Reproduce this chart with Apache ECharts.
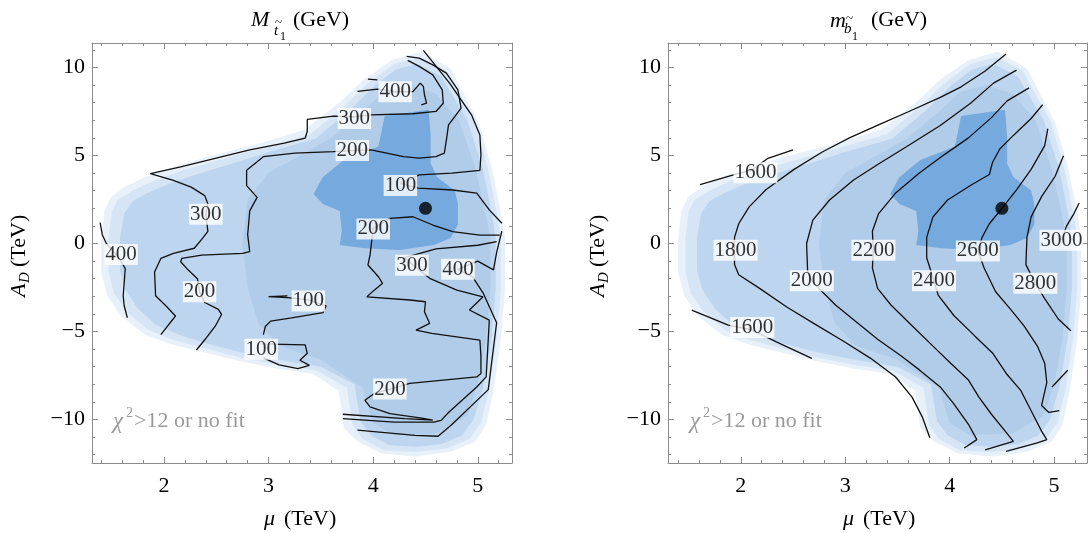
<!DOCTYPE html>
<html>
<head>
<meta charset="utf-8">
<script src="https://cdn.jsdelivr.net/npm/echarts@6/dist/echarts.min.js"></script>
<style>
  html, body { margin: 0; padding: 0; background: #fff; }
  #chart { width: 1089px; height: 533px; }
</style>
</head>
<body>
<div id="chart"></div>
<script>
// ---- chi^2 shading (same region in both panels), mu [TeV] / A_D [TeV]
var chiOuter = [[4.46,10.9],[4.74,9.94],[5.01,6.86],[5.14,4.16],[5.23,1.46],[5.26,0.31],[5.26,-2.58],[5.22,-5.47],[5.15,-8.36],[5.08,-10.29],[4.98,-11.25],[4.74,-11.83],[4.41,-12.1],[4.08,-11.93],[3.85,-11.25],[3.72,-10.48],[3.67,-8.36],[3.42,-7.40],[3.09,-7.11],[2.75,-6.72],[2.42,-6.24],[2.09,-5.76],[1.82,-5.18],[1.59,-4.12],[1.46,-2.97],[1.40,-1.62],[1.40,0.31],[1.43,1.85],[1.49,2.62],[1.62,3.20],[1.82,3.78],[2.09,4.35],[2.42,4.93],[2.92,5.70],[3.35,6.47],[3.68,8.02],[3.92,9.36],[4.18,10.42]];
var chiBand = [[4.45,10.6],[4.70,9.8],[4.97,6.9],[5.10,4.2],[5.19,1.5],[5.22,0.3],[5.22,-2.6],[5.18,-5.4],[5.11,-8.3],[5.03,-10.2],[4.92,-11.1],[4.70,-11.65],[4.40,-11.85],[4.10,-11.75],[3.90,-11.1],[3.80,-10.3],[3.75,-8.2],[3.45,-7.2],[3.1,-6.9],[2.75,-6.5],[2.42,-6.0],[2.1,-5.5],[1.85,-4.9],[1.65,-3.9],[1.52,-2.8],[1.47,-1.6],[1.47,0.3],[1.50,1.8],[1.56,2.5],[1.70,3.0],[1.90,3.55],[2.15,4.1],[2.5,4.7],[2.95,5.45],[3.4,6.2],[3.72,7.8],[3.97,9.2],[4.2,10.2]];
var chiBody = [[4.42,10.2],[4.65,9.5],[4.9,7.0],[5.05,4.2],[5.14,1.5],[5.17,0.3],[5.17,-2.6],[5.13,-5.4],[5.05,-8.2],[4.96,-10.0],[4.85,-10.9],[4.65,-11.4],[4.40,-11.55],[4.15,-11.45],[3.98,-10.9],[3.88,-10.1],[3.82,-8.0],[3.5,-7.0],[3.1,-6.6],[2.75,-6.2],[2.42,-5.7],[2.15,-5.2],[1.92,-4.6],[1.75,-3.7],[1.63,-2.6],[1.58,-1.5],[1.58,0.3],[1.62,1.7],[1.70,2.4],[1.85,2.9],[2.05,3.4],[2.3,3.9],[2.6,4.45],[3.0,5.2],[3.45,5.95],[3.78,7.6],[4.02,9.0],[4.22,9.9]];
var chiInner = [[4.35,9.0],[4.6,8.5],[4.82,7.0],[4.98,4.2],[5.08,1.5],[5.12,0.3],[5.12,-2.6],[5.08,-5.4],[5.0,-8.0],[4.9,-9.8],[4.6,-10.8],[4.2,-10.9],[4.0,-10.2],[3.9,-8.2],[3.5,-6.6],[3.1,-5.8],[2.9,-4.5],[2.8,-2.5],[2.75,0],[2.8,2.5],[3.0,4.0],[3.3,5.0],[3.6,6.0],[3.9,7.5],[4.1,8.6]];
var chiCore = [[4.53,7.6],[4.11,7.24],[4.05,5.51],[3.72,4.74],[3.52,3.78],[3.43,2.81],[3.52,2.24],[3.68,1.85],[3.70,0.69],[3.68,-0.08],[3.92,-0.27],[4.25,-0.37],[4.58,-0.08],[4.74,0.31],[4.81,1.08],[4.81,2.24],[4.78,3.01],[4.61,3.78],[4.55,4.55],[4.55,6.09]];

// best fit point
var bestFit = [[4.5, 2.0]];

// ---- left panel: M_stop1 contours (GeV)
var stop400a = [[1.39,1.18],[1.41,0.5],[1.45,0.0],[1.58,-0.9],[1.63,-1.43],[1.62,-2.2],[1.61,-2.97],[1.62,-3.55],[1.65,-4.22]];
var stop300a = [[1.97,-5.18],[2.11,-4.12],[2.02,-3.55],[1.92,-2.97],[1.91,-1.62],[1.97,-0.85],[2.09,-0.56],[2.29,-0.27],[2.37,0.31],[2.42,0.69],[2.40,1.66],[2.42,2.24],[2.39,2.72],[2.26,3.20],[2.09,3.58],[1.87,3.97],[2.16,4.35],[2.49,4.84],[2.82,5.32],[3.15,5.70],[3.35,5.99],[3.37,6.38],[3.37,7.05],[3.62,7.24],[3.82,7.2],[3.98,7.31],[4.38,7.37],[4.60,7.50],[4.67,7.97],[4.66,8.73],[4.57,9.58],[4.44,10.06],[4.33,10.4]];
var stop200a = [[2.31,-6.05],[2.39,-5.47],[2.49,-4.70],[2.55,-4.03],[2.52,-3.74],[2.39,-3.35],[2.34,-2.74],[2.32,-2.0],[2.22,-1.43],[2.16,-1.04],[2.17,-0.85],[2.36,-0.66],[2.75,-0.56],[2.82,-0.46],[2.80,0.50],[2.82,1.85],[2.89,2.62],[2.79,3.29],[2.79,4.16],[2.95,4.93],[3.25,5.13],[3.62,5.22],[3.80,5.28],[3.98,5.32],[4.29,4.94],[4.44,4.85],[4.60,4.94],[4.68,5.13],[4.70,5.89],[4.72,6.74],[4.78,7.21],[4.84,7.69],[4.81,8.73],[4.70,9.68],[4.57,10.15],[4.44,10.53],[4.32,10.63]];
var stop400b = [[3.85,8.64],[4.04,8.77],[4.21,8.62],[4.38,8.63],[4.45,9.11],[4.48,8.92],[4.49,8.45],[4.51,7.97],[4.46,7.88]];
var stop400c = [[3.95,9.34],[4.04,9.30]];
var stop100a = [[4.48,10.97],[4.73,9.11],[4.94,7.31],[5.02,6.17],[5.03,5.03],[5.02,4.15],[4.75,4.0],[4.44,3.90],[4.26,3.4],[4.43,3.14],[4.76,3.04],[4.99,2.86],[5.11,1.91],[5.23,1.15]];
var stop200b = [[5.21,0.48],[5.02,0.48],[4.76,0.67],[4.57,1.05],[4.38,1.52],[4.16,1.43],[4.0,0.86],[3.97,-0.65],[3.95,-1.22],[4.05,-1.89],[4.09,-2.26],[4.01,-2.65],[3.94,-3.03],[4.35,-3.21],[4.50,-3.31],[4.49,-3.88],[4.54,-4.54],[4.41,-4.92],[4.56,-5.11],[5.02,-5.49],[5.03,-6.44],[5.03,-7.38],[4.99,-7.58],[4.35,-7.95],[4.16,-8.27],[4.01,-8.52],[3.92,-8.90],[3.97,-9.28],[4.16,-9.66],[4.48,-9.94],[4.57,-10.04],[4.30,-9.95],[3.71,-9.7]];
var stop300b = [[3.71,-9.95],[4.2,-10.15],[4.58,-10.15],[4.65,-10.05],[4.72,-9.6],[4.99,-8.15],[5.08,-7.58],[5.11,-4.35],[4.92,-3.78],[5.05,-3.03],[4.80,-2.65],[4.54,-1.98],[4.38,-1.22],[4.3,-0.8],[4.6,-0.3],[5.0,-0.1],[5.18,0.1]];
var stop400d = [[3.85,-10.6],[4.4,-10.9],[4.62,-10.95],[4.75,-10.3],[5.1,-8.3],[5.18,-4.5],[5.05,-2.8],[4.95,-1.9],[4.81,-1.47],[5.0,-1.0],[5.15,-1.5],[5.18,-0.5],[5.23,0.7]];
var stop100b = [[3.18,-2.97],[3.00,-3.02],[3.18,-3.08],[3.38,-3.2],[3.55,-3.55],[3.52,-3.93],[3.22,-4.22],[3.02,-4.41],[2.97,-4.70],[2.95,-5.18]];
var stop100c = [[2.93,-5.70],[3.35,-5.76],[3.37,-6.24],[3.30,-6.63],[3.39,-6.92],[3.28,-7.11],[3.1,-6.9],[2.95,-6.5]];
var stopLabels = [[4.21,8.62,'400'],[3.82,7.10,'300'],[3.80,5.28,'200'],[4.26,3.29,'100'],[2.40,1.66,'300'],[4.00,0.83,'200'],[1.59,-0.62,'400'],[4.37,-1.23,'300'],[4.81,-1.46,'400'],[2.34,-2.74,'200'],[3.38,-3.26,'100'],[2.93,-6.01,'100'],[4.16,-8.27,'200']];

// ---- right panel: m_sbottom1 contours (GeV)
var sb1600a = [[1.61,3.34],[1.93,3.90],[2.10,4.15],[2.26,4.84],[2.50,5.32]];
var sb1600b = [[1.53,-3.79],[1.88,-4.64],[2.1,-4.9],[2.34,-5.59],[2.68,-6.53]];
var sb1800 = [[4.54,10.77],[4.34,9.8],[4.11,8.9],[3.91,8.3],[3.61,7.5],[3.34,6.8],[3.04,6.0],[2.78,5.2],[2.51,4.21],[2.24,3.05],[2.08,2.08],[1.98,1.12],[1.94,0.35],[1.94,-1.20],[1.98,-1.78],[2.18,-2.55],[2.44,-3.61],[2.71,-4.58],[2.98,-5.54],[3.24,-6.51],[3.48,-7.57],[3.64,-8.73],[3.74,-9.88],[3.81,-11.04]];
var sb2000 = [[4.64,9.85],[4.42,9.11],[4.20,7.97],[3.91,6.70],[3.59,5.51],[3.33,4.56],[3.08,3.61],[2.85,2.47],[2.69,1.33],[2.63,0.0],[2.64,-1.58],[2.68,-2.12],[2.78,-2.74],[2.91,-3.51],[3.11,-4.48],[3.31,-5.44],[3.54,-6.41],[3.71,-7.18],[3.91,-8.15],[4.04,-9.11],[4.18,-10.27],[4.26,-11.14],[4.14,-11.62]];
var sb2200 = [[4.76,8.84],[4.55,8.1],[4.40,7.15],[4.18,6.0],[3.95,5.05],[3.71,4.0],[3.48,2.85],[3.32,1.7],[3.26,0.7],[3.27,-0.39],[3.26,-1.39],[3.31,-2.55],[3.44,-3.51],[3.64,-4.67],[3.84,-5.83],[4.01,-6.80],[4.18,-7.76],[4.28,-8.73],[4.40,-9.7],[4.51,-10.5],[4.61,-11.24],[4.34,-11.72]];
var sb2400 = [[4.89,7.88],[4.78,7.10],[4.61,6.14],[4.48,5.37],[4.41,4.60],[4.38,3.92],[4.21,3.34],[3.98,2.47],[3.84,1.51],[3.78,0.35],[3.78,-0.81],[3.85,-2.12],[3.89,-2.93],[4.04,-4.09],[4.24,-5.25],[4.41,-6.22],[4.54,-7.37],[4.68,-8.34],[4.78,-9.50],[4.88,-10.66],[4.93,-11.14],[4.84,-11.33],[4.54,-11.81]];
var sb2600 = [[4.94,6.53],[4.91,5.56],[4.78,4.21],[4.64,3.05],[4.50,1.99],[4.38,1.12],[4.31,0.35],[4.27,-0.42],[4.33,-1.39],[4.44,-2.74],[4.58,-3.71],[4.71,-4.67],[4.84,-5.83],[4.91,-6.80],[4.93,-7.9],[4.88,-9.2],[4.95,-9.6],[5.05,-9.5]];
var sb2800 = [[5.09,4.98],[5.01,3.82],[4.88,2.66],[4.78,1.51],[4.74,0.35],[4.73,-1.20],[4.82,-2.26],[4.91,-3.13],[5.04,-4.29],[5.16,-4.96]];
var sb2800b = [[5.13,-7.2],[4.98,-8.15]];
var sb3000 = [[5.24,2.3],[5.19,1.7],[5.12,1.0],[5.07,0.19]];
var sbotLabels = [[2.14,4.02,'1600'],[1.95,-0.39,'1800'],[2.68,-2.12,'2000'],[3.27,-0.39,'2200'],[3.85,-2.12,'2400'],[4.27,-0.42,'2600'],[4.82,-2.26,'2800'],[5.07,0.19,'3000'],[2.11,-4.77,'1600']];

var chart = echarts.init(document.getElementById('chart'));
var FONT = '"Liberation Serif", "Times New Roman", serif';
var FRAME = '#8c8c8c';
var Y_MIN = -12.47, Y_MAX = 11.39;
var TOP = 43, HEIGHT = 420;

var panels = [
  { left: 92, width: 420, xMin: 1.312, xMax: 5.327,
    lines: [stop400a, stop300a, stop200a, stop400b, stop400c, stop100a, stop200b, stop300b, stop400d, stop100b, stop100c],
    labels: stopLabels },
  { left: 668, width: 419, xMin: 1.303, xMax: 5.315,
    lines: [sb1600a, sb1600b, sb1800, sb2000, sb2200, sb2400, sb2600, sb2800, sb2800b, sb3000],
    labels: sbotLabels }
];
var fills = [[chiOuter, '#e8f0f9'], [chiBand, '#d5e5f5'], [chiBody, '#bdd5ee'], [chiInner, '#b0cce9'], [chiCore, '#76a9dd']];

function fmtTick(step) {
  return function (v) {
    var r = Math.round(v);
    if (Math.abs(v - r) > 1e-6 || r % step !== 0) return '';
    return String(r).replace('-', '\u2212');
  };
}

function axis(dim, gridIndex, pos, min, max, step, tickLen, labelStep, showLine) {
  var a = {
    type: 'value', gridIndex: gridIndex, position: pos, min: min, max: max,
    splitNumber: Math.round((max - min) / step), minInterval: step, maxInterval: step,
    axisLine: { show: showLine, onZero: false, lineStyle: { color: FRAME, width: 1 } },
    axisTick: { show: true, inside: true, length: tickLen, lineStyle: { color: FRAME, width: 1 } },
    splitLine: { show: false },
    axisLabel: { show: false }
  };
  if (labelStep) {
    a.axisLabel = {
      show: true, showMinLabel: false, showMaxLabel: false,
      formatter: fmtTick(labelStep), color: '#000',
      fontFamily: FONT, fontSize: 22, margin: dim === 'x' ? 12 : 7
    };
  }
  return a;
}

var grid = [], xAxis = [], yAxis = [], series = [];

panels.forEach(function (p, i) {
  var base = i * 4;
  for (var k = 0; k < 4; k++) {
    grid.push({ left: p.left, top: TOP, width: p.width, height: HEIGHT });
  }
  xAxis.push(axis('x', base, 'bottom', p.xMin, p.xMax, 1, 6, 1, true));
  yAxis.push(axis('y', base, 'left', Y_MIN, Y_MAX, 5, 6, 5, true));
  xAxis.push(axis('x', base + 1, 'top', p.xMin, p.xMax, 1, 6, 0, true));
  yAxis.push(axis('y', base + 1, 'right', Y_MIN, Y_MAX, 5, 6, 0, true));
  xAxis.push(axis('x', base + 2, 'bottom', p.xMin, p.xMax, 0.2, 3, 0, false));
  yAxis.push(axis('y', base + 2, 'left', Y_MIN, Y_MAX, 1, 3, 0, false));
  xAxis.push(axis('x', base + 3, 'top', p.xMin, p.xMax, 0.2, 3, 0, false));
  yAxis.push(axis('y', base + 3, 'right', Y_MIN, Y_MAX, 1, 3, 0, false));

  fills.forEach(function (f, j) {
    series.push({
      type: 'custom', xAxisIndex: base, yAxisIndex: base, z: 1 + j, silent: true,
      data: f[0], encode: { x: 0, y: 1 },
      renderItem: function (params, api) {
        if (params.dataIndex !== 0) return;
        var pts = f[0].map(function (pt) { return api.coord(pt); });
        return { type: 'polygon', shape: { points: pts }, style: { fill: f[1] } };
      }
    });
  });

  p.lines.forEach(function (ln) {
    series.push({
      type: 'line', xAxisIndex: base, yAxisIndex: base, z: 10, silent: true,
      data: ln, showSymbol: false, symbol: 'none',
      lineStyle: { color: '#111', width: 1.3 }
    });
  });

  series.push({
    type: 'scatter', xAxisIndex: base, yAxisIndex: base, z: 20, silent: true,
    data: p.labels, symbolSize: 1, itemStyle: { color: 'rgba(0,0,0,0)' },
    label: {
      show: true, position: 'inside',
      formatter: function (d) { return d.data[2]; },
      color: '#000', fontFamily: FONT, fontSize: 21,
      backgroundColor: '#fff', padding: [1, 1, 0, 1], lineHeight: 20
    }
  });

  series.push({
    type: 'scatter', xAxisIndex: base, yAxisIndex: base, z: 25, silent: true,
    data: bestFit, symbolSize: 13, itemStyle: { color: '#000' }
  });
});

function txt(x, y, s, size, italic, color) {
  return {
    type: 'text', x: x, y: y, z: 100, silent: true,
    style: { text: s, font: (italic ? 'italic ' : '') + size + 'px ' + FONT,
             fill: color || '#000', align: 'left', verticalAlign: 'middle' }
  };
}

function yName(cx) {
  return {
    type: 'group', x: cx, y: 253, rotation: Math.PI / 2, z: 100,
    children: [
      txt(-44, 0, 'A', 22, true),
      txt(-30, 6, 'D', 15, true),
      txt(-14, 0, '(TeV)', 22, false)
    ]
  };
}

function chiNote(x0) {
  return [
    txt(x0, 422, '\u03c7', 23, true, '#9a9a9a'),
    txt(x0 + 13, 413, '2', 14, false, '#9a9a9a'),
    txt(x0 + 21, 421, '>12 or no fit', 22, false, '#9a9a9a')
  ];
}

var graphic = [
  // left title  M_{t~1} (GeV)
  txt(251, 20, 'M', 22, true),
  txt(274, 31, 't', 15, true),
  txt(275, 23, '~', 13, false),
  txt(280, 37, '1', 12, false),
  txt(293, 20, '(GeV)', 22, false),
  // right title  m_{b~1} (GeV)
  txt(830, 21, 'm', 22, true),
  txt(844, 29, 'b', 15, true),
  txt(846, 19, '~', 13, false),
  txt(852, 37, '1', 12, false),
  txt(871, 20, '(GeV)', 22, false),
  // x axis names
  txt(264, 519, '\u03bc', 22, true),
  txt(284, 519, '(TeV)', 22, false),
  txt(843, 519, '\u03bc', 22, true),
  txt(863, 519, '(TeV)', 22, false),
  yName(19),
  yName(598)
].concat(chiNote(113), chiNote(690));

chart.setOption({
  animation: false,
  backgroundColor: '#fff',
  grid: grid, xAxis: xAxis, yAxis: yAxis,
  series: series,
  graphic: graphic
});
</script>
</body>
</html>
